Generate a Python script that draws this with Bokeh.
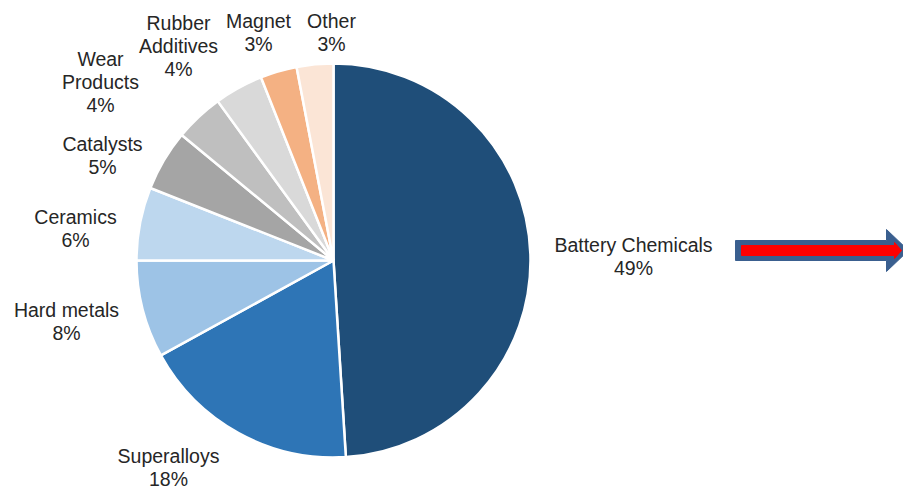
import numpy as np
from bokeh.plotting import figure
from bokeh.models import Range1d, ColumnDataSource
from bokeh.core.properties import value
from bokeh.embed import file_html
from bokeh.resources import INLINE

# ---- data ----
categories = ["Battery Chemicals", "Superalloys", "Hard metals", "Ceramics",
              "Catalysts", "Wear Products", "Rubber Additives", "Magnet", "Other"]
shares = [49, 18, 8, 6, 5, 4, 4, 3, 3]
label_lines = [["Battery Chemicals"], ["Superalloys"], ["Hard metals"], ["Ceramics"],
               ["Catalysts"], ["Wear", "Products"], ["Rubber", "Additives"], ["Magnet"], ["Other"]]
colors = ["#1F4E79", "#2E75B6", "#9DC3E6", "#BDD7EE", "#A5A5A5",
          "#BFBFBF", "#D9D9D9", "#F4B183", "#FBE5D6"]

# ---- layout (screen pixels, y measured from top) ----
W, H = 903, 489
CX, CY, R = 333, 260, 197
label_pos = [(633, 244), (168, 455), (66, 309), (75, 216), (102, 143),
             (100, 58), (178, 22), (258, 20), (331, 20)]
LINE_H = 23

p = figure(width=W, height=H, output_backend="svg", toolbar_location=None,
           x_range=Range1d(0, W), y_range=Range1d(0, H), min_border=0)
p.axis.visible = False
p.grid.visible = False
p.outline_line_color = None
p.background_fill_color = "white"

total = float(sum(shares))
frac = np.array(shares) / total
cum = np.concatenate([[0], np.cumsum(frac)])
start = np.pi / 2 - cum[:-1] * 2 * np.pi
end = np.pi / 2 - cum[1:] * 2 * np.pi

src = ColumnDataSource(dict(start=start, end=end, color=colors, cat=categories))
p.wedge(x=CX, y=H - CY, radius=R, start_angle="start", end_angle="end",
        direction="clock", fill_color="color", line_color="white", line_width=2.5,
        source=src)

# labels
tx, ty, tt = [], [], []
for (lx, ly), lines, s in zip(label_pos, label_lines, shares):
    all_lines = lines + [f"{s}%"]
    for i, t in enumerate(all_lines):
        tx.append(lx)
        ty.append(H - (ly + i * LINE_H))
        tt.append(t)
p.text(x=tx, y=ty, text=tt, text_align="center", text_baseline="middle",
       text_font=value("Liberation Sans"), text_font_size="19.5px", text_color="#262626")

# arrow (block arrow with red inner arrow)
ay = 250
bx = [735, 886, 886, 908, 886, 886, 735]
by = [ay - 10, ay - 10, ay - 21, ay, ay + 21, ay + 10, ay + 10]
p.patch(x=bx, y=[H - v for v in by], fill_color="#3A5F8F", line_color="#3A5F8F")
rx = [741, 894, 894, 901, 894, 894, 741]
ry = [ay - 5, ay - 5, ay - 8, ay, ay + 8, ay + 5, ay + 5]
p.patch(x=rx, y=[H - v for v in ry], fill_color="#FF0000", line_color="#FF0000")

open("out.html", "w").write(file_html(p, INLINE))
